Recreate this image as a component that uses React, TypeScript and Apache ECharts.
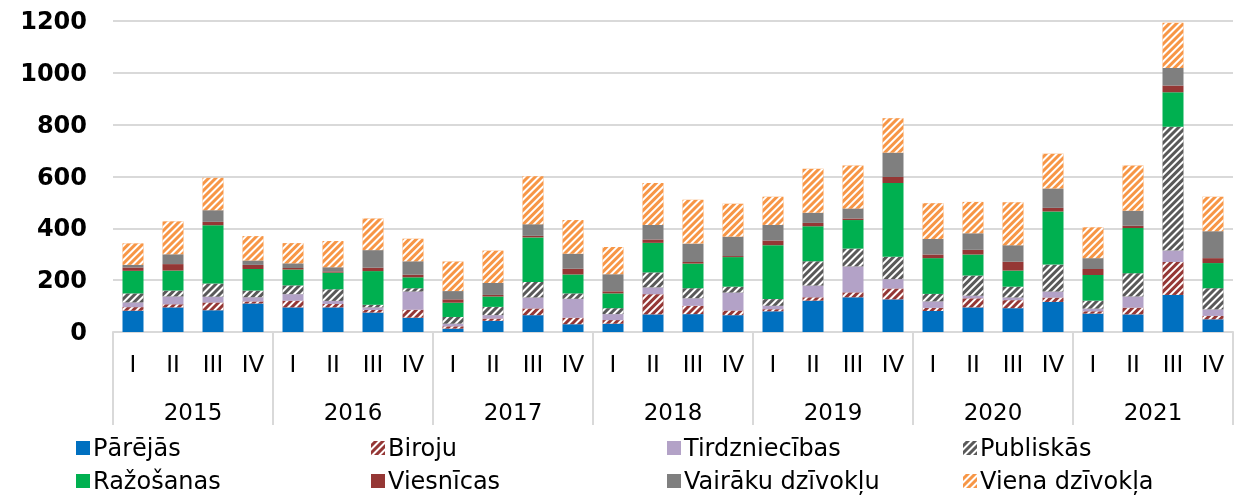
import React, { useEffect, useRef } from "react";
import * as echarts from "echarts";

const years = ["2015", "2016", "2017", "2018", "2019", "2020", "2021"];
const quarterNames = ["I", "II", "III", "IV"];
const quarters: string[] = [];
years.forEach((y) => quarterNames.forEach((q) => quarters.push(y + " " + q)));

const pareejas = [82, 95, 84, 110, 95, 95, 75, 55, 13, 43, 65, 30, 32, 68, 69, 65, 80, 121, 134, 126, 81, 95, 92, 116, 71, 68, 143, 49];
const biroju = [14, 12, 30, 8, 26, 13, 10, 31, 9, 9, 26, 25, 14, 78, 32, 18, 8, 13, 19, 42, 12, 35, 31, 17, 9, 26, 127, 13];
const tirdzniecibas = [18, 30, 22, 16, 25, 12, 10, 70, 10, 13, 42, 73, 23, 26, 29, 69, 13, 45, 100, 36, 25, 10, 10, 23, 10, 43, 44, 25];
const publiskas = [35, 23, 51, 26, 34, 45, 10, 13, 26, 32, 60, 21, 23, 58, 39, 23, 26, 94, 69, 86, 29, 78, 42, 104, 31, 90, 478, 82];
const razosanas = [87, 77, 225, 83, 61, 64, 130, 42, 55, 40, 172, 73, 57, 114, 95, 114, 208, 135, 110, 285, 138, 81, 62, 205, 99, 174, 133, 97];
const viesnicas = [13, 25, 13, 16, 6, 5, 13, 10, 13, 6, 6, 22, 8, 13, 6, 4, 18, 13, 6, 23, 14, 18, 34, 14, 23, 9, 26, 19];
const vairaku = [10, 38, 45, 17, 18, 16, 68, 52, 32, 46, 45, 58, 66, 56, 71, 75, 60, 39, 39, 94, 60, 64, 64, 75, 42, 58, 68, 104];
const viena = [83, 127, 125, 94, 78, 101, 122, 87, 114, 125, 185, 130, 105, 162, 169, 127, 109, 170, 165, 133, 138, 121, 166, 134, 119, 174, 174, 133];

const seriesDefs = [
  { name: "Pārējās", data: pareejas, color: "#0070C0", hatch: false },
  { name: "Biroju", data: biroju, color: "#953735", hatch: true },
  { name: "Tirdzniecības", data: tirdzniecibas, color: "#B3A2C7", hatch: false },
  { name: "Publiskās", data: publiskas, color: "#595959", hatch: true },
  { name: "Ražošanas", data: razosanas, color: "#00B050", hatch: false },
  { name: "Viesnīcas", data: viesnicas, color: "#953735", hatch: false },
  { name: "Vairāku dzīvokļu", data: vairaku, color: "#7F7F7F", hatch: false },
  { name: "Viena dzīvokļa", data: viena, color: "#F79646", hatch: true },
];

const FONT = "'DejaVu Sans', Verdana, sans-serif";

export default function App() {
  const ref = useRef<HTMLDivElement>(null);
  useEffect(() => {
    if (!ref.current) return;
    const chart = echarts.init(ref.current, null, { renderer: "svg" });
    const hatch = {
      symbol: "rect",
      symbolSize: 1,
      color: "#ffffff",
      dashArrayX: [1, 0],
      dashArrayY: [2, 3],
      rotation: -Math.PI / 4,
    };
    const legendCols = [76, 371, 667, 963];
    const legendRows = [436, 469];
    const legends = seriesDefs.map((s, i) => ({
      data: [s.name],
      left: legendCols[i % 4],
      top: legendRows[Math.floor(i / 4)],
      itemWidth: 14,
      itemHeight: 14,
      itemGap: 6,
      textStyle: { fontFamily: FONT, fontSize: 24, color: "#000", padding: [0, 0, 0, -2] },
      padding: 0,
      icon: "rect",
    }));
    chart.setOption({
      animation: false,
      textStyle: { fontFamily: FONT },
      legend: legends,
      grid: { left: 113, right: 12, top: 21, bottom: 163, containLabel: false },
      xAxis: [
        {
          type: "category",
          data: quarters,
          axisLine: { show: true, lineStyle: { color: "#D9D9D9", width: 2 } },
          axisTick: { show: false },
          axisLabel: {
            interval: 0,
            margin: 20,
            fontSize: 23,
            color: "#000",
            fontFamily: FONT,
            formatter: (v: string) => v.split(" ")[1],
          },
        },
        {
          type: "category",
          data: years,
          position: "bottom",
          axisLine: { show: false },
          axisTick: { show: true, length: 93, interval: 0, lineStyle: { color: "#D9D9D9", width: 2 } },
          axisLabel: { interval: 0, margin: 68, fontSize: 23, color: "#000", fontFamily: FONT },
          splitLine: { show: false },
        },
      ],
      yAxis: {
        type: "value",
        min: 0,
        max: 1200,
        interval: 200,
        axisLine: { show: false },
        axisTick: { show: false },
        splitLine: { lineStyle: { color: "#D9D9D9", width: 2 } },
        axisLabel: {
          fontSize: 24,
          fontWeight: "bold",
          color: "#000",
          margin: 26,
          fontFamily: FONT,
          formatter: (v: number) => String(v),
        },
      },
      series: seriesDefs.map((s) => ({
        name: s.name,
        type: "bar",
        stack: "total",
        xAxisIndex: 0,
        barWidth: 21,
        data: s.data,
        itemStyle: s.hatch ? { color: s.color, decal: hatch } : { color: s.color },
        emphasis: { disabled: true },
      })),
    });
    return () => chart.dispose();
  }, []);
  return (
    <div
      ref={ref}
      style={{ position: "fixed", top: 0, left: 0, width: 1245, height: 495 }}
    />
  );
}
